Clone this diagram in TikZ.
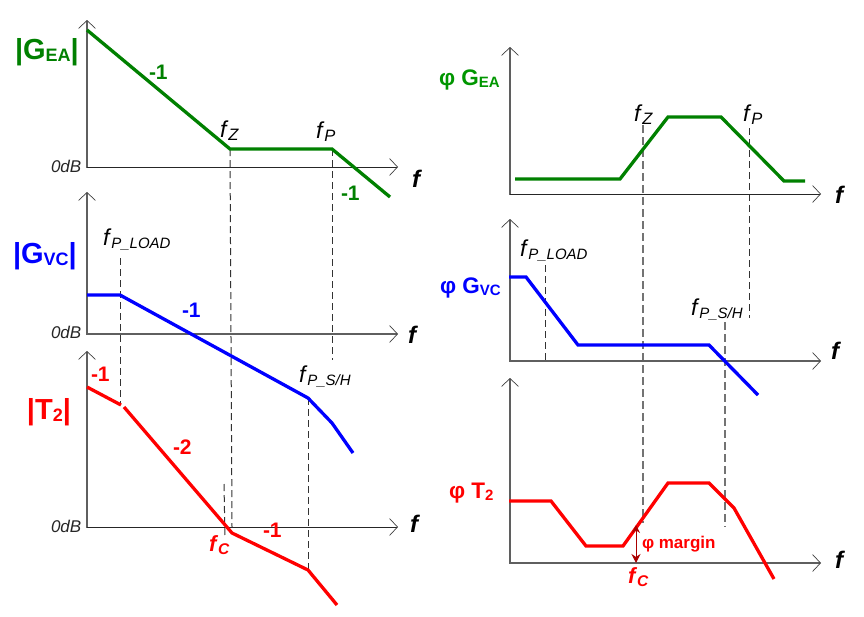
\documentclass[tikz,border=0pt]{standalone}
\usepackage{fontspec}
\setmainfont{Liberation Sans}
\usetikzlibrary{arrows.meta}
\definecolor{dgreen}{RGB}{0,128,0}
\definecolor{lgreen}{RGB}{0,150,0}
\definecolor{pblue}{RGB}{0,0,255}
\definecolor{pred}{RGB}{255,0,0}
\definecolor{dred}{RGB}{170,0,0}
\definecolor{axisgray}{RGB}{95,95,95}
\newcommand{\fsz}[2]{\fontsize{#1}{#1}\selectfont #2}
\newcommand{\bigsub}[2]{\fsz{29}{\textbf{#1}}\raisebox{-2.5pt}{\fsz{18}{\textbf{#2}}}}
\newcommand{\phisub}[2]{\fsz{22.5}{\textbf{φ #1}}\raisebox{-2pt}{\fsz{15}{\textbf{#2}}}}
\newcommand{\freq}[1]{\fsz{23}{\textit{f}}\raisebox{-3pt}{\fsz{16.5}{\textit{#1}}}}
\newcommand{\freqsm}[1]{\fsz{23}{\textit{f}}\raisebox{-3pt}{\fsz{15}{\textit{#1}}}}
\newcommand{\freqbold}[1]{\fsz{22}{\textbf{\textit{f}}}\raisebox{-3pt}{\fsz{15.5}{\textbf{\textit{#1}}}}}
\tikzset{
  lab/.style={anchor=base west,inner sep=0pt,outer sep=0pt},
  yaxisline/.style={draw=axisgray,line width=1.2pt,-{Straight Barb[length=8pt,width=17pt,line width=0.7pt,color=black!75]}},
  xaxisline/.style={draw=axisgray,line width=1.2pt,-{Straight Barb[length=8pt,width=17pt,line width=0.7pt,color=black!75]}},
  xaxisdark/.style={draw=black!85,line width=0.9pt,-{Straight Barb[length=8pt,width=17pt,line width=0.7pt,color=black!75]}},
  guide/.style={draw=black!80,line width=1pt,dash pattern=on 7pt off 4pt},
  guideg/.style={draw=black!55,line width=1.3pt,dash pattern=on 8pt off 4pt},
  trace/.style={line width=3.3pt,line join=miter},
  slope/.style={lab,font=\bfseries\fontsize{21}{21}\selectfont},
  zero/.style={lab,text=black!85,font=\itshape\fontsize{17}{17}\selectfont},
  fax/.style={lab,font=\bfseries\itshape\fontsize{24}{24}\selectfont},
}
\begin{document}
\begin{tikzpicture}[x=1pt,y=-1pt]
\useasboundingbox (0,0) rectangle (864,616);
% guides
\draw[guide] (230,149) -- (232,527);
\draw[guide] (332,149) -- (332,360);
\draw[guide] (120,258) -- (120,405);
\draw[guide] (308,398) -- (308,570);
\draw[guide] (224,484) -- (225,538);
\draw[guideg] (643,125) -- (643,523);
\draw[guide] (749,128) -- (749,318);
\draw[guide] (545,265) -- (545,360);
\draw[guideg] (725,322) -- (725,527);
% axes
\draw[yaxisline] (87,167.5) -- (87,20);
\draw[xaxisdark] (87,167) -- (398,167);
\draw[yaxisline] (87,334.5) -- (87,192);
\draw[xaxisline] (87,334) -- (398,334);
\draw[yaxisline] (87,527.5) -- (87,351);
\draw[xaxisdark] (87,527) -- (398,527);
\draw[yaxisline] (510,194.5) -- (510,47);
\draw[xaxisdark] (510,194) -- (821,194);
\draw[yaxisline] (510,361.5) -- (510,219);
\draw[xaxisline] (510,361) -- (821,361);
\draw[yaxisline] (510,563.5) -- (510,378);
\draw[xaxisline] (510,563) -- (821,563);
% traces
\draw[trace,dgreen] (87,30) -- (230,149) -- (332,149) -- (390,197);
\draw[trace,pblue] (87,295) -- (120,295) -- (308,398) -- (332,423) -- (353,453);
\draw[trace,pred] (87,387) -- (121,405);
\draw[trace,pred] (124,407) -- (232,533) -- (308,570) -- (337,605);
\draw[trace,dgreen] (515,179) -- (620,179) -- (668,117) -- (721,117) -- (784,181) -- (805,181);
\draw[trace,pblue] (509,277) -- (526,277) -- (578,345) -- (709,345) -- (758,395);
\draw[trace,pred] (509,501) -- (551,501) -- (586,546) -- (623,546) -- (668,483) -- (709,483) -- (734,508) -- (774,579);
\draw[dred,line width=1pt,{Stealth[length=8pt,width=8pt]}-{Stealth[length=9pt,width=9pt]}] (636,525) -- (636,563);
% left labels
\node[lab,text=dgreen] (tGEA) at (15,59) {\bigsub{|G}{EA}\fsz{29}{\textbf{|}}};
\node[slope,text=dgreen] (s1) at (149,79) {-1};
\node[lab] (fz1) at (220,137) {\freq{Z}};
\node[lab] (fp1) at (316,138) {\freq{P}};
\node[zero] (z1) at (51,172) {0dB};
\node[fax] (f1) at (412,187) {f};
\node[slope,text=dgreen] (s2) at (341,200) {-1};
\node[lab,text=pblue] (tGVC) at (13,263) {\bigsub{|G}{VC}\fsz{29}{\textbf{|}}};
\node[lab] (fl1) at (103,245) {\freqsm{P\_LOAD}};
\node[slope,text=pblue] (s3) at (182,317) {-1};
\node[zero] (z2) at (51,338) {0dB};
\node[fax] (f2) at (408,343) {f};
\node[lab] (fs1) at (299,382) {\freqsm{P\_S/H}};
\node[slope,text=pred] (s4) at (91,381) {-1};
\node[lab,text=pred] (tT) at (27,419) {\bigsub{|T}{2}\fsz{29}{\textbf{|}}};
\node[slope,text=pred] (s5) at (173,454) {-2};
\node[zero] (z3) at (51,532) {0dB};
\node[fax] (f3) at (410,532) {f};
\node[lab,text=pred] (fc1) at (209,551) {\freqbold{C}};
\node[slope,text=pred] (s6) at (263,537) {-1};
% right labels
\node[lab,text=lgreen] (pGEA) at (439,85) {\phisub{G}{EA}};
\node[lab] (fz2) at (634,121) {\freq{Z}};
\node[lab] (fp2) at (743,121) {\freq{P}};
\node[fax] (f4) at (835,203) {f};
\node[lab] (fl2) at (520,256) {\freqsm{P\_LOAD}};
\node[lab,text=pblue] (pGVC) at (440,293) {\phisub{G}{VC}};
\node[lab] (fs2) at (691,315) {\freqsm{P\_S/H}};
\node[fax] (f5) at (831,359) {f};
\node[lab,text=pred] (pT) at (449,498) {\phisub{T}{2}};
\node[lab,text=pred,font=\bfseries\fontsize{17}{17}\selectfont] (pm) at (642,548) {φ margin};
\node[lab,text=pred] (fc2) at (628,583) {\freqbold{C}};
\node[fax] (f6) at (835,568) {f};
\end{tikzpicture}
\end{document}
